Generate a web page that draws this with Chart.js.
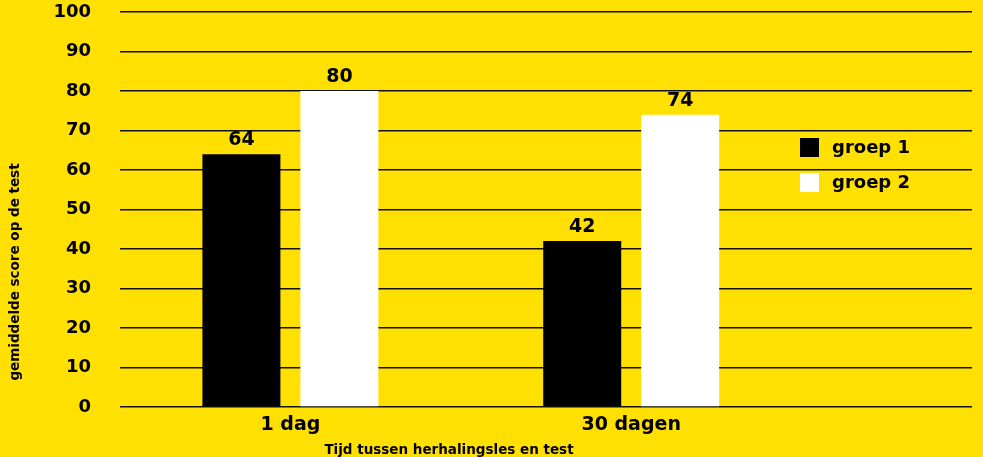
<!DOCTYPE html>
<html>
<head>
<meta charset="utf-8">
<script src="https://cdn.jsdelivr.net/npm/chart.js@4"></script>
<style>
  html, body { margin: 0; padding: 0; background: #FFE000; }
  #wrap { width: 983px; height: 457px; position: relative; }
</style>
</head>
<body>
<div id="wrap"><canvas id="myChart"></canvas></div>
<script>
const categories = ['1 dag', '30 dagen'];
const seriesNames = ['groep 1', 'groep 2'];
const groep1 = [64, 42];
const groep2 = [80, 74];
const yTicks = [0, 10, 20, 30, 40, 50, 60, 70, 80, 90, 100];
const xTitle = 'Tijd tussen herhalingsles en test';
const yTitle = 'gemiddelde score op de test';

const FONT = "'DejaVu Sans', sans-serif";

// bars sit on a linear x axis so there is room on the right for the legend
function points(values) {
    return values.map((v, i) => ({ x: i, y: v }));
}

const extras = {
    id: 'extras',
    afterDatasetsDraw(chart) {
        const ctx = chart.ctx;
        ctx.save();
        ctx.fillStyle = '#000';

        // waarden boven de staven
        ctx.font = 'bold 19px ' + FONT;
        ctx.textAlign = 'center';
        ctx.textBaseline = 'alphabetic';
        chart.data.datasets.forEach((ds, di) => {
            chart.getDatasetMeta(di).data.forEach((bar, i) => {
                ctx.fillText(ds.data[i].y, bar.x, bar.y - 9);
            });
        });

        // legenda rechts
        ctx.font = 'bold 18px ' + FONT;
        ctx.textAlign = 'left';
        ctx.textBaseline = 'middle';
        chart.data.datasets.forEach((ds, di) => {
            const top = 138 + di * 35;
            ctx.fillStyle = ds.backgroundColor;
            ctx.fillRect(800, top, 19, 19);
            ctx.fillStyle = '#000';
            ctx.fillText(ds.label, 832, top + 10);
        });

        // astitels
        ctx.font = 'bold 13.5px ' + FONT;
        ctx.textAlign = 'center';
        ctx.fillText(xTitle, 449, 450);
        ctx.translate(15, 272);
        ctx.rotate(-Math.PI / 2);
        ctx.fillText(yTitle, 0, 0);
        ctx.restore();
    }
};

const ctx = document.getElementById('myChart').getContext('2d');
const myChart = new Chart(ctx, {
    type: 'bar',
    data: {
        datasets: [
            { label: seriesNames[0], data: points(groep1), backgroundColor: '#000000' },
            { label: seriesNames[1], data: points(groep2), backgroundColor: '#FFFFFF' }
        ]
    },
    options: {
        responsive: true,
        maintainAspectRatio: false,
        animation: false,
        categoryPercentage: 0.575,
        barPercentage: 0.796,
        layout: { padding: { left: 0, right: 11, top: 12, bottom: 0 } },
        plugins: {
            legend: { display: false },
            tooltip: { enabled: false }
        },
        scales: {
            x: {
                type: 'linear',
                min: -0.5,
                max: 2,
                offset: false,
                grid: { display: false, drawTicks: false, offset: false },
                border: { display: false },
                afterBuildTicks: axis => {
                    axis.ticks = categories.map((c, i) => ({ value: i }));
                },
                afterFit: axis => { axis.height = 50; },
                ticks: {
                    padding: 7,
                    color: '#000',
                    font: { family: FONT, size: 19, weight: 'bold' },
                    callback: value => categories[value] ?? ''
                }
            },
            y: {
                min: 0,
                max: 100,
                grid: { color: '#111', lineWidth: 1.5, drawTicks: false },
                border: { display: false },
                afterBuildTicks: axis => {
                    axis.ticks = yTicks.map(v => ({ value: v }));
                },
                afterFit: axis => {
                    axis.width = 120;
                    axis.paddingTop = 12;
                    axis.paddingBottom = 10;
                },
                ticks: {
                    padding: 29,
                    color: '#000',
                    font: { family: FONT, size: 18, weight: 'bold' }
                }
            }
        }
    },
    plugins: [extras]
});
</script>
</body>
</html>
